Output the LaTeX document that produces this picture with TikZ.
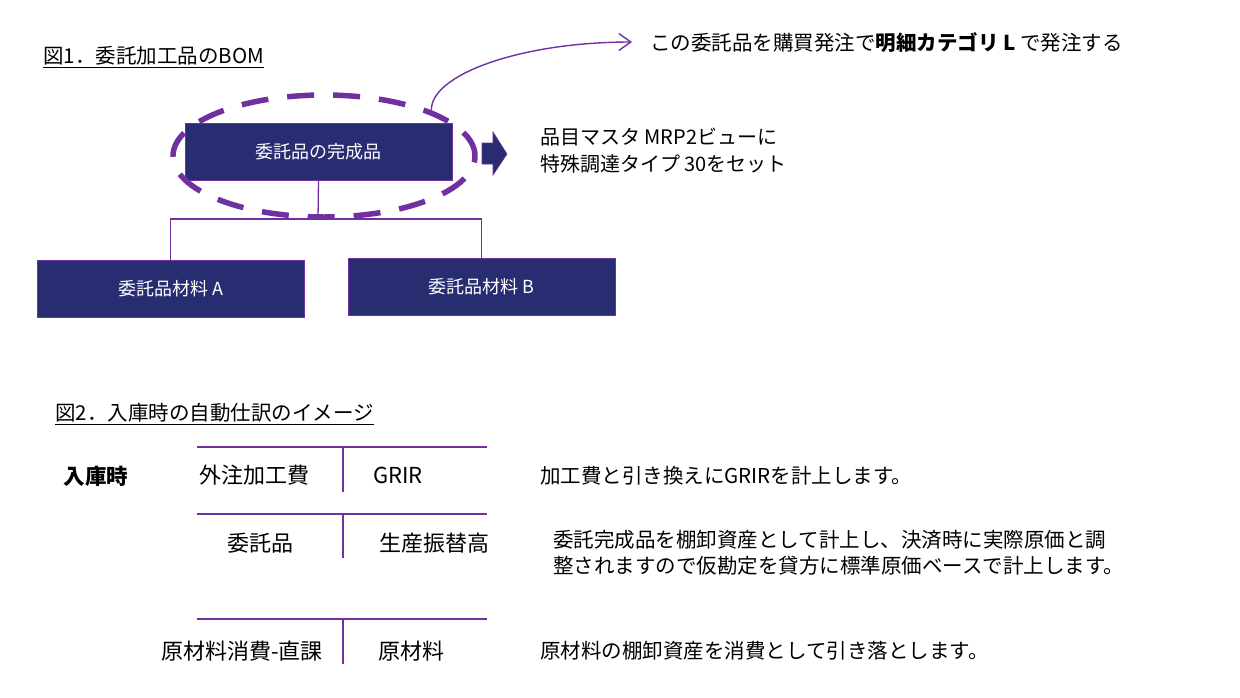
\documentclass[tikz,border=0pt]{standalone}
\usepackage{fontspec}
\setmainfont{Noto Sans CJK JP}
\usetikzlibrary{arrows.meta,shapes.geometric}
\definecolor{pur}{HTML}{7030A0}
\definecolor{boxfill}{RGB}{40,44,112}
\begin{document}
\begin{tikzpicture}[x=1pt,y=-1pt,
  bomnode/.style={draw=pur,line width=1pt,fill=boxfill,text=white,font=\fontsize{18}{20}\selectfont,inner sep=0pt},
  treeline/.style={draw=pur,line width=1.3pt},
  tline/.style={draw=pur,line width=2pt},
  lbl/.style={font=\fontsize{20.5}{24}\selectfont,inner sep=0pt},
  tlbl/.style={font=\fontsize{22}{24}\selectfont,inner sep=0pt},
  ttl/.style={font=\fontsize{20.5}{22}\selectfont,inner sep=0pt,anchor=south west}]
\useasboundingbox (0,0) rectangle (1240,697);
% Figure 1 title
\node[ttl] (t1) at (43,65) {図1．委託加工品のBOM};
\draw[line width=1pt] ([yshift=-2pt]t1.south west) -- ([yshift=-2pt]t1.south east);
% BOM boxes
\node[bomnode,minimum width=267pt,minimum height=57pt] (fin) at (318.5,151.5) {委託品の完成品};
\node[bomnode,minimum width=267pt,minimum height=57pt] (ma) at (170.5,288.5) {委託品材料 A};
\node[bomnode,minimum width=267pt,minimum height=57pt] (mb) at (481.5,286.5) {委託品材料 B};
\coordinate (jn) at (318,219);
\draw[treeline] (fin.south) -- (jn);
\draw[treeline] (ma.north) |- (jn) -| (mb.north);
% dashed ellipse
\node[ellipse,draw=pur,line width=5.5pt,dash pattern=on 27pt off 19pt,minimum width=302pt,minimum height=122pt,inner sep=0pt] (ell) at (324,156) {};
% curved arrow
\coordinate (tip) at (632,42);
\draw[pur,line width=1.4pt,-{Straight Barb[length=12pt,width=17pt,line width=1.4pt]}] (ell.23) .. controls (430,75) and (520,42) .. (tip);
\node[lbl,anchor=west] (note) at (650,43) {この委託品を購買発注で\textbf{明細カテゴリ L} で発注する};
% block arrow
\node[lbl,anchor=north west,align=left,font=\fontsize{20}{27}\selectfont] (mrp) at (540,128) {品目マスタ MRP2ビューに\\特殊調達タイプ 30をセット};
\fill[boxfill,draw=pur,line width=0.6pt] (482,143) -- (493,143) -- (493,132) -- (507,154) -- (493,175) -- (493,164) -- (482,164) -- cycle;
% Figure 2 title
\node[ttl] (t2) at (55,422) {図2．入庫時の自動仕訳のイメージ};
\draw[line width=1pt] ([yshift=-2pt]t2.south west) -- ([yshift=-2pt]t2.south east);
\node[lbl,font=\fontsize{21.5}{24}\selectfont] (nyuko) at (96,476) {\textbf{入庫時}};
% T accounts
\coordinate (a1l) at (197,447); \coordinate (a1r) at (487,447);
\coordinate (a1t) at (343,447); \coordinate (a1b) at (343,492);
\draw[tline] (a1l) -- (a1r); \draw[tline] (a1t) -- (a1b);
\node[tlbl] (d1) at (254,475) {外注加工費};
\node[tlbl] (c1) at (398,475) {GRIR};
\coordinate (a2l) at (197,514); \coordinate (a2r) at (487,514);
\coordinate (a2t) at (343,514); \coordinate (a2b) at (343,558);
\draw[tline] (a2l) -- (a2r); \draw[tline] (a2t) -- (a2b);
\node[tlbl] (d2) at (260,543) {委託品};
\node[tlbl] (c2) at (434,543) {生産振替高};
\coordinate (a3l) at (197,619); \coordinate (a3r) at (487,619);
\coordinate (a3t) at (343,619); \coordinate (a3b) at (343,664);
\draw[tline] (a3l) -- (a3r); \draw[tline] (a3t) -- (a3b);
\node[tlbl] (d3) at (242,651) {原材料消費-直課};
\node[tlbl] (c3) at (411,651) {原材料};
% explanations
\node[lbl,anchor=west] (e1) at (540,476) {加工費と引き換えにGRIRを計上します。};
\node[lbl,anchor=north west,align=left,font=\fontsize{20.5}{26}\selectfont] (e2) at (553,530) {委託完成品を棚卸資産として計上し、決済時に実際原価と調\\整されますので仮勘定を貸方に標準原価ベースで計上します。};
\node[lbl,anchor=west] (e3) at (540,651) {原材料の棚卸資産を消費として引き落とします。};
\end{tikzpicture}
\end{document}
